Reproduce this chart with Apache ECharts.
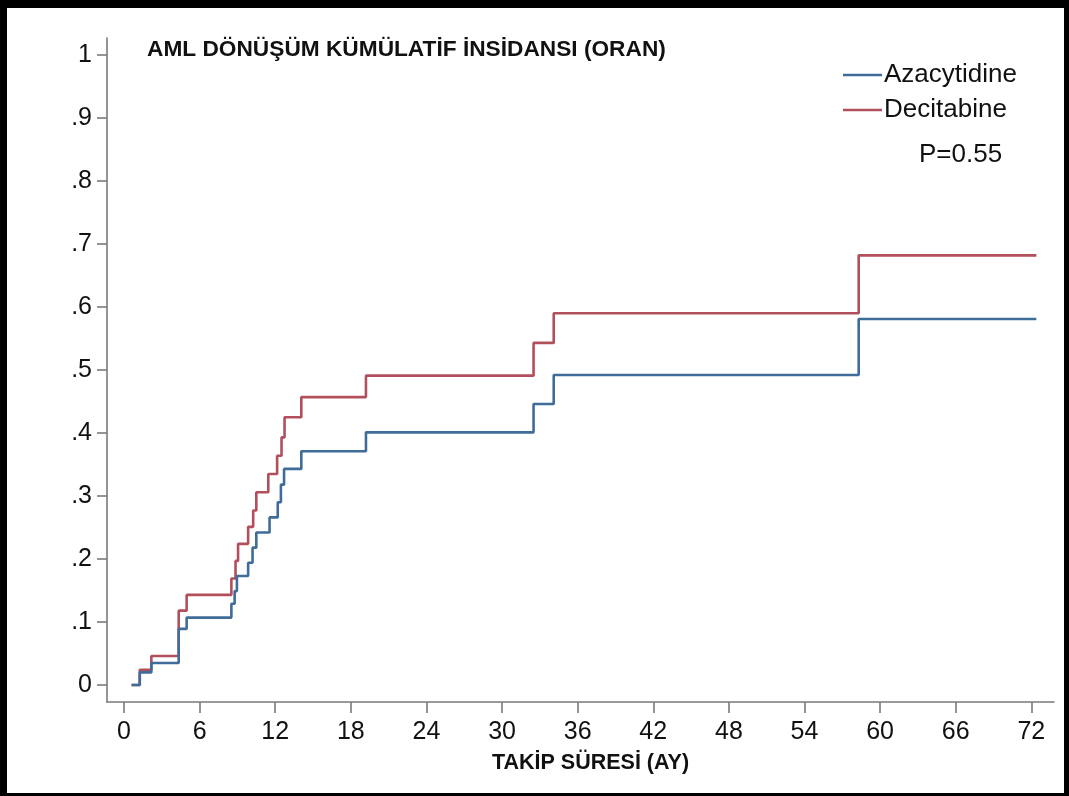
<!DOCTYPE html>
<html>
<head>
<meta charset="utf-8">
<script src="https://cdn.jsdelivr.net/npm/echarts@6/dist/echarts.min.js"></script>
<style>
html,body{margin:0;padding:0;background:#fff;}
#wrap{position:relative;width:1069px;height:796px;}
#chart{position:absolute;left:0;top:0;width:1069px;height:796px;}
#frame{position:absolute;left:0;top:0;width:1069px;height:796px;box-sizing:border-box;
  border-top:8px solid #000;border-left:7px solid #000;border-right:5px solid #000;border-bottom:3px solid #000;pointer-events:none;}
</style>
</head>
<body>
<div id="wrap"><div id="chart"></div><div id="frame"></div></div>
<script>
// Data (time in months, cumulative incidence)
const azacytidine = [
  [0.6,0],[1.25,0.02],[2.17,0.035],[4.34,0.089],[4.97,0.107],[8.52,0.129],[8.78,0.149],
  [8.96,0.173],[9.85,0.194],[10.2,0.218],[10.5,0.242],[11.55,0.266],[12.2,0.29],
  [12.45,0.318],[12.7,0.343],[14.07,0.371],[19.2,0.401],[32.5,0.446],[34.1,0.492],
  [58.3,0.581],[72.4,0.581]
];
const decitabine = [
  [0.6,0],[1.25,0.024],[2.17,0.046],[4.34,0.118],[4.97,0.143],[8.52,0.169],[8.85,0.197],
  [9.05,0.224],[9.85,0.251],[10.25,0.277],[10.5,0.306],[11.45,0.335],[12.15,0.364],
  [12.5,0.393],[12.74,0.425],[14.07,0.457],[19.2,0.491],[32.5,0.543],[34.1,0.590],
  [58.3,0.682],[72.4,0.682]
];
const seriesNames = ['Azacytidine','Decitabine'];
const xTicks = [0,6,12,18,24,30,36,42,48,54,60,66,72];
const yTicks = [0,0.1,0.2,0.3,0.4,0.5,0.6,0.7,0.8,0.9,1];
const titleText = 'AML DÖNÜŞÜM KÜMÜLATİF İNSİDANSI (ORAN)';
const xName = 'TAKİP SÜRESİ (AY)';
const pText = 'P=0.55';

const chart = echarts.init(document.getElementById('chart'), null, {renderer:'canvas'});
const axisColor = '#7a7a7a';
const blue = '#3f6c98', red = '#b24f5d';
const labelFont = {fontFamily:'Liberation Sans, Arial, sans-serif', fontSize:25, color:'#111'};
chart.setOption({
  backgroundColor:'#fff',
  animation:false,
  title:[
    {text:titleText,left:142,top:33,textStyle:{fontFamily:'Liberation Sans, Arial, sans-serif',fontWeight:'bold',fontSize:22.7,color:'#111'}},
    {text:pText,left:914,top:137,textStyle:{fontFamily:'Liberation Sans, Arial, sans-serif',fontWeight:'normal',fontSize:26,color:'#111'}}
  ],
  legend:{
    orient:'vertical',left:843,top:62,padding:0,itemWidth:39,itemHeight:2.5,itemGap:9,icon:'rect',
    textStyle:{fontFamily:'Liberation Sans, Arial, sans-serif',fontSize:26,color:'#111',padding:[0,0,0,-3]},
    data:seriesNames
  },
  grid:{left:107,right:15,top:38,bottom:94,outerBoundsMode:'none',containLabel:false},
  xAxis:{
    type:'value',min:-1.35,max:73.8,
    name:xName,nameLocation:'middle',nameGap:50,
    nameTextStyle:{fontFamily:'Liberation Sans, Arial, sans-serif',fontWeight:'bold',fontSize:21.5,color:'#111',padding:[0,0,0,20]},
    axisLine:{show:true,onZero:false,lineStyle:{color:axisColor,width:1.6}},
    axisTick:{show:true,length:11,customValues:xTicks,lineStyle:{color:axisColor,width:1.6}},
    axisLabel:Object.assign({customValues:xTicks,margin:18},labelFont),
    splitLine:{show:false}
  },
  yAxis:{
    type:'value',min:-0.027,max:1.027,
    axisLine:{show:true,onZero:false,lineStyle:{color:axisColor,width:1.6}},
    axisTick:{show:true,length:10,customValues:yTicks,lineStyle:{color:axisColor,width:1.6}},
    axisLabel:Object.assign({customValues:yTicks,margin:15,
      formatter:function(v){ if(Math.abs(v)<1e-9) return '0'; if(Math.abs(v-1)<1e-9) return '1'; return '.'+Math.round(v*10);}},labelFont),
    splitLine:{show:false}
  },
  series:[
    {name:seriesNames[0],type:'line',step:'end',data:azacytidine,symbol:'none',showSymbol:false,
     lineStyle:{color:blue,width:2.6},itemStyle:{color:blue},z:3},
    {name:seriesNames[1],type:'line',step:'end',data:decitabine,symbol:'none',showSymbol:false,
     lineStyle:{color:red,width:2.6},itemStyle:{color:red},z:2}
  ]
});
</script>
</body>
</html>
